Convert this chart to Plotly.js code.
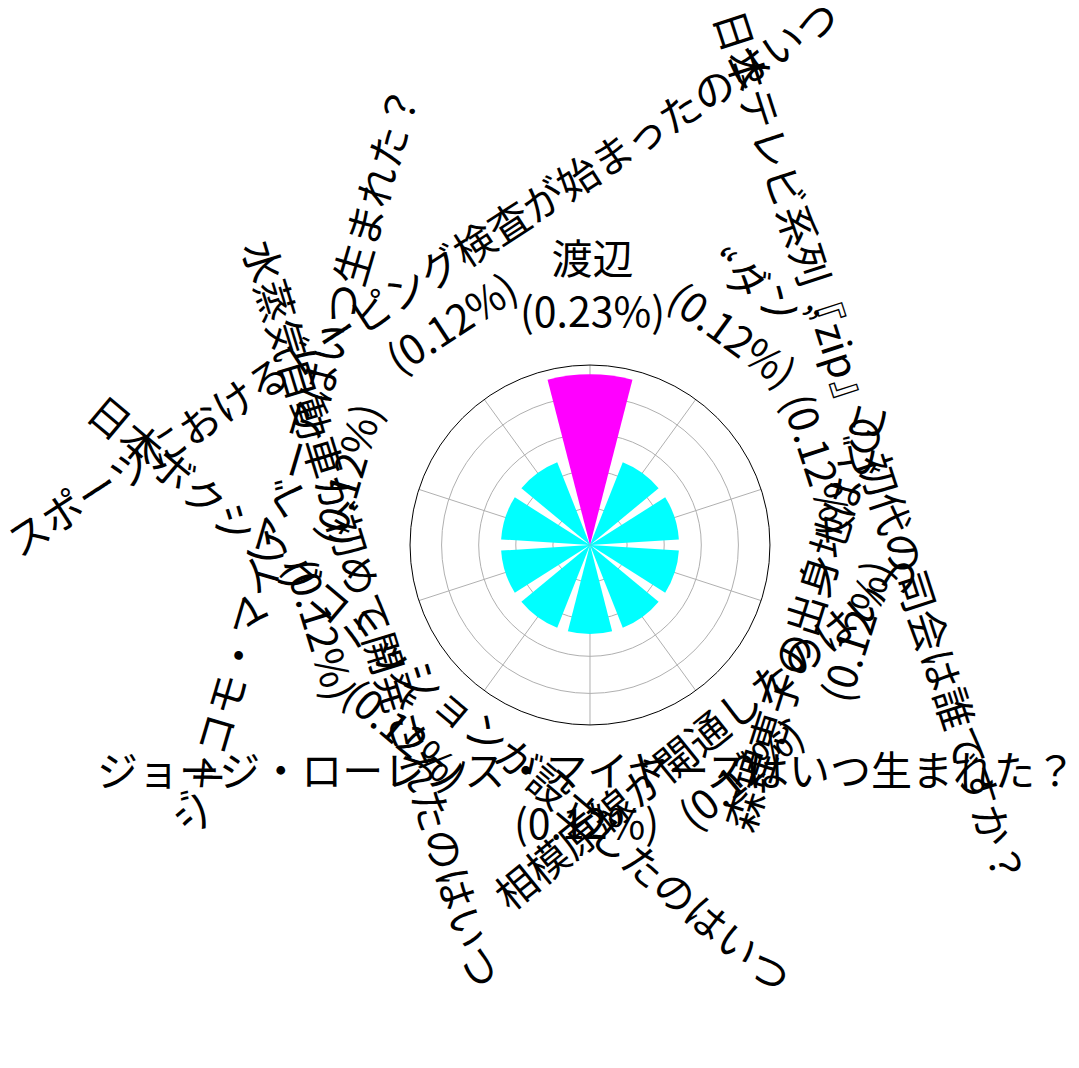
<!DOCTYPE html>
<html>
<head>
<meta charset="utf-8">
<script src="https://cdn.plot.ly/plotly-3.0.1.min.js"></script>
<style>html,body{margin:0;padding:0;background:#fff;}#chart{width:1079px;height:1068px;}</style>
</head>
<body>
<div id="chart"></div>
<script>
// ---- data ----
const answers = [
  "渡辺",
  "“ダン”",
  "日本テレビ系列『zip』の初代の司会は誰ですか？",
  "森理恵子の出身地はどこ",
  "相模原線が開通したのはいつ",
  "ジョージ・ローレンス・マイヤーズはいつ生まれた？",
  "日本ボクシングコミッションが設立したのはいつ",
  "水蒸気自動車が初めて開発されたのはいつ",
  "ジャコモ・マイアベーアはいつ生まれた？",
  "スポーツにおけるドーピング検査が始まったのはいつ"
];
const shares = [0.23, 0.12, 0.12, 0.12, 0.12, 0.12, 0.12, 0.12, 0.12, 0.12];
const barColors = ["#ff00ff", "#00ffff", "#00ffff", "#00ffff", "#00ffff", "#00ffff", "#00ffff", "#00ffff", "#00ffff", "#00ffff"];
const radialTicks = [0.05, 0.10, 0.15, 0.20];

// ---- label placement (layout only) ----
const labelAngle  = [0, 36, 72, -72.5, -39, 0, 40, 72.9, -73.6, -33];
const labelRadius = [263, 283, 272, 251, 244, 249, 236, 253, 282, 291];
const labelAlong  = [3, -8, -6, 0, -14, -3, -36, -2, -8, 20];

const W = 1079, H = 1068;
const domX = [0.38, 0.7136], domY = [0.3212, 0.6582];
const n = answers.length;
const step = 360 / n;
const thetas = answers.map((_, i) => i * step);

const cx = W * (domX[0] + domX[1]) / 2;
const cy = H * (1 - (domY[0] + domY[1]) / 2);
const FONT = "Noto Sans CJK JP, Liberation Sans, sans-serif";

const annotations = answers.map((a, i) => {
  const th = thetas[i] * Math.PI / 180;
  const rot = labelAngle[i] * Math.PI / 180;
  const R = labelRadius[i], t = labelAlong[i];
  const px = cx + R * Math.sin(th) + t * Math.cos(rot);
  const py = cy - R * Math.cos(th) + t * Math.sin(rot);
  return {
    x: px / W, y: 1 - py / H, xref: "paper", yref: "paper",
    xanchor: "center", yanchor: "middle",
    text: a + "<br>(" + shares[i].toFixed(2) + "%)",
    showarrow: false, textangle: labelAngle[i], align: "center",
    font: {family: FONT, size: 41, color: "#000"}
  };
});

const trace = {
  type: "barpolar",
  r: shares,
  theta: thetas,
  width: answers.map(() => step * 0.8),
  marker: {color: barColors, line: {width: 0}},
  hoverinfo: "skip"
};

const layout = {
  width: W, height: H,
  margin: {l: 0, r: 0, t: 0, b: 0},
  paper_bgcolor: "#fff",
  showlegend: false,
  polar: {
    domain: {x: domX, y: domY},
    bgcolor: "#fff",
    radialaxis: {
      range: [0, 0.2425], tickvals: radialTicks, showticklabels: false,
      ticks: "", showline: false, gridcolor: "#b0b0b0", gridwidth: 1
    },
    angularaxis: {
      rotation: 90, direction: "clockwise", tickmode: "linear", tick0: 0, dtick: step,
      showticklabels: false, ticks: "", showline: true, linecolor: "#000", linewidth: 1,
      gridcolor: "#b0b0b0", gridwidth: 1
    }
  },
  annotations: annotations
};

Plotly.newPlot("chart", [trace], layout, {staticPlot: true});
</script>
</body>
</html>
